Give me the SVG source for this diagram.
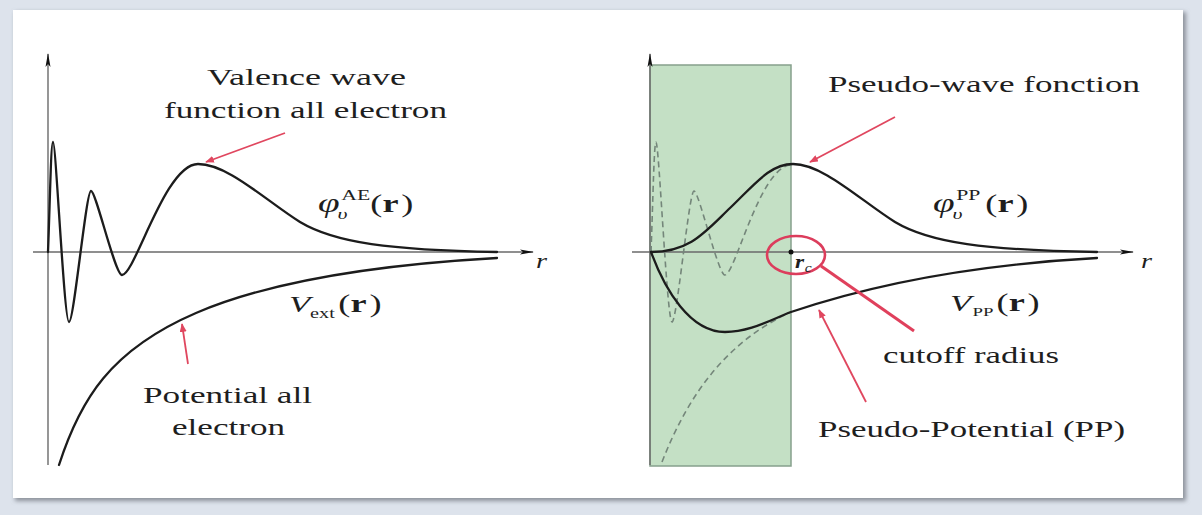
<svg xmlns="http://www.w3.org/2000/svg" width="1202" height="515" viewBox="0 0 1202 515">
<defs>
<style>
.t{font-family:"Liberation Serif","Times New Roman",serif;fill:#1e1e1e}
.it{font-style:italic}
.b{font-weight:bold}
.axis{stroke:#6a6a6a;stroke-width:1.4;fill:none}
.curve{stroke:#1c1c1c;stroke-width:2.3;fill:none;stroke-linecap:round}
.dash{stroke:#74867a;stroke-width:1.6;fill:none;stroke-dasharray:6 4}
.red{stroke:#e0475f;stroke-width:1.8;fill:none}
</style>
<marker id="ah" viewBox="0 0 14 8" refX="13" refY="4" markerWidth="14" markerHeight="8" markerUnits="userSpaceOnUse" orient="auto">
<path d="M0,1.5 L14,4 L0,6.5 L3,4 Z" fill="#111"/>
</marker>
<marker id="rh" viewBox="0 0 10 8" refX="9" refY="4" markerWidth="9" markerHeight="7" markerUnits="userSpaceOnUse" orient="auto">
<path d="M0,0 L10,4 L0,8 Z" fill="#e0475f"/>
</marker>
<filter id="sh" x="-5%" y="-5%" width="110%" height="110%">
<feGaussianBlur stdDeviation="2"/>
</filter>
</defs>

<rect x="0" y="0" width="1202" height="515" fill="#dde3ec"/>
<rect x="15" y="12" width="1171" height="489" fill="#8d939b" filter="url(#sh)"/>
<rect x="13" y="10" width="1170" height="488" fill="#ffffff"/>

<g id="left-plot">
<line class="axis" x1="48" y1="465" x2="48" y2="54" marker-end="url(#ah)"/>
<line class="axis" x1="33" y1="252" x2="533" y2="252" marker-end="url(#ah)"/>
<text class="t it" x="536" y="268" font-size="20" textLength="11" lengthAdjust="spacingAndGlyphs">r</text>
</g>

<g id="right-plot">
<rect x="650" y="65" width="141" height="401" fill="#c4e0c5" stroke="#86a08c" stroke-width="1.5"/>
<line class="axis" x1="650" y1="465" x2="650" y2="54" marker-end="url(#ah)"/>
<line class="axis" x1="632" y1="252" x2="1133" y2="252" marker-end="url(#ah)"/>
<text class="t it" x="1141" y="268" font-size="20" textLength="11" lengthAdjust="spacingAndGlyphs">r</text>
<circle cx="791" cy="252" r="2.5" fill="#111"/>
</g>

<g id="connectors">
<path class="curve" d="M48,252 C50,200 51,142 53,142 C56,142 64,322 69,322 C74,322 86,191 91,191 C96,191 115,275 122,275 C135,275 165,164 198,164 C228,164 265,200 300,222 C335,243 390,250 497,252"/>
<path class="curve" d="M59,465 C80,400 110,350 196,313 C260,285.5 355,266 497,258"/>
<path class="dash" d="M651,252 C653,200 654,142 656,142 C659,142 667,322 672,322 C677,322 689,191 694,191 C699,191 718,275 725,275 C735,275 760,166 791,165"/>
<path class="dash" d="M662,462 C690,390 730,340 791,312"/>
<path class="curve" d="M651,252 C690,252 705,232 730,208 C755,184 770,164 793,164 C823,164 860,200 895,222 C930,243 985,250 1097,252"/>
<path class="curve" d="M651,252 C665,290 690,332 725,332 C750,332 770,320 791,312 C850,292 950,266 1097,258"/>
<line class="red" x1="285" y1="133" x2="206" y2="162" marker-end="url(#rh)"/>
<line class="red" x1="188" y1="364" x2="182" y2="324" marker-end="url(#rh)"/>
<line class="red" x1="895" y1="117" x2="810" y2="162" marker-end="url(#rh)"/>
<line class="red" x1="866" y1="402" x2="819" y2="310" marker-end="url(#rh)"/>
<ellipse cx="796" cy="255" rx="29" ry="19" fill="none" stroke="#dc3d5c" stroke-width="2.6"/>
<line x1="821" y1="266" x2="914" y2="331" stroke="#e0405c" stroke-width="3"/>
</g>

<g id="label-valence">
<text class="t" x="207" y="85" font-size="24" textLength="199" lengthAdjust="spacingAndGlyphs">Valence wave</text>
<text class="t" x="164" y="118" font-size="24" textLength="283" lengthAdjust="spacingAndGlyphs">function all electron</text>
</g>
<g id="label-potential">
<text class="t" x="143" y="403" font-size="24" textLength="169" lengthAdjust="spacingAndGlyphs">Potential all</text>
<text class="t" x="172" y="435" font-size="24" textLength="113" lengthAdjust="spacingAndGlyphs">electron</text>
</g>
<g id="label-pseudo-wave">
<text class="t" x="828" y="92" font-size="24" textLength="312" lengthAdjust="spacingAndGlyphs">Pseudo-wave fonction</text>
</g>
<g id="label-cutoff">
<text class="t" x="883" y="363" font-size="24" textLength="176" lengthAdjust="spacingAndGlyphs">cutoff radius</text>
</g>
<g id="label-pseudo-potential">
<text class="t" x="818" y="437" font-size="24" textLength="307" lengthAdjust="spacingAndGlyphs">Pseudo-Potential (PP)</text>
</g>

<g id="label-phi-ae" transform="translate(318,212) scale(1.45,1)">
<text class="t it" x="0" y="0" font-size="27">φ</text>
<text class="t it" x="13.5" y="7" font-size="15">υ</text>
<text class="t" x="16" y="-12" font-size="15">AE</text>
<text class="t" x="36" y="0" font-size="25">(</text>
<text class="t b" x="44.5" y="0" font-size="25">r</text>
<text class="t" x="57.5" y="0" font-size="25">)</text>
</g>
<g id="label-phi-pp" transform="translate(933,212) scale(1.45,1)">
<text class="t it" x="0" y="0" font-size="27">φ</text>
<text class="t it" x="13.5" y="7" font-size="15">υ</text>
<text class="t" x="16" y="-12" font-size="15">PP</text>
<text class="t" x="36" y="0" font-size="25">(</text>
<text class="t b" x="44.5" y="0" font-size="25">r</text>
<text class="t" x="57.5" y="0" font-size="25">)</text>
</g>
<g id="label-vext" transform="translate(289,312) scale(1.45,1)">
<text class="t it" x="0" y="0" font-size="24">V</text>
<text class="t" x="14.5" y="6" font-size="14">ext</text>
<text class="t" x="34" y="0" font-size="25">(</text>
<text class="t b" x="42.5" y="0" font-size="25">r</text>
<text class="t" x="55.5" y="0" font-size="25">)</text>
</g>
<g id="label-vpp" transform="translate(950,311) scale(1.45,1)">
<text class="t it" x="0" y="0" font-size="24">V</text>
<text class="t" x="15.5" y="5" font-size="13">PP</text>
<text class="t" x="32" y="0" font-size="25">(</text>
<text class="t b" x="40.5" y="0" font-size="25">r</text>
<text class="t" x="53.5" y="0" font-size="25">)</text>
</g>
<g id="label-rc" transform="translate(795,268) scale(1.3,1)">
<text class="t it b" x="0" y="0" font-size="18">r</text>
<text class="t it" x="7.5" y="4" font-size="12">c</text>
</g>
</svg>
